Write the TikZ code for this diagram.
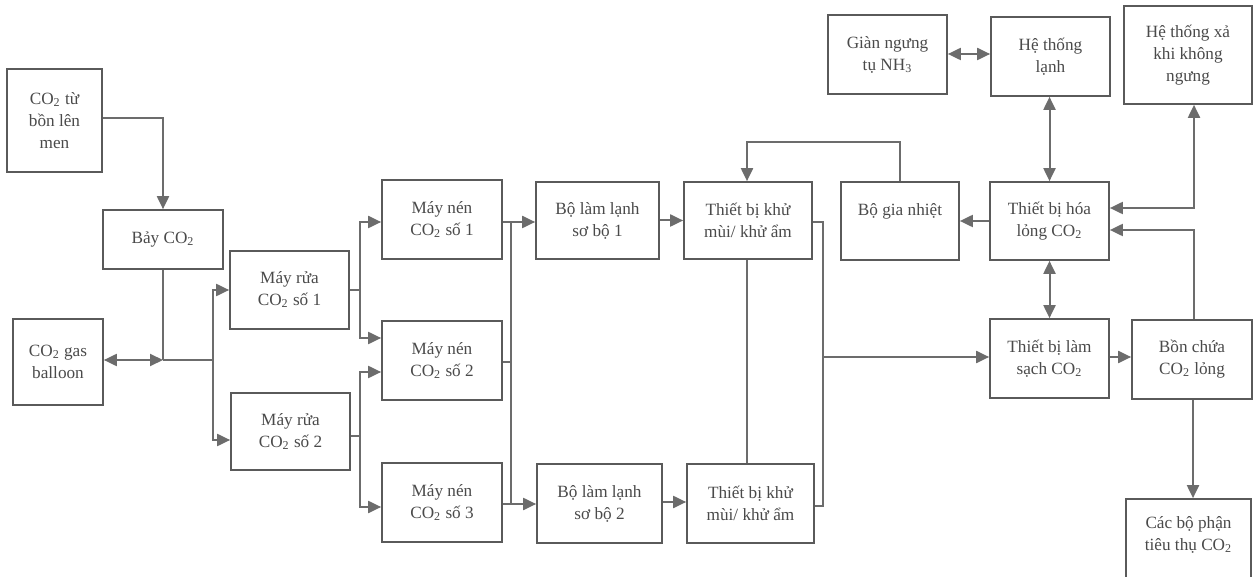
\documentclass[tikz,border=0pt]{standalone}
\usepackage{fontspec}
\setmainfont{Liberation Serif}
\usetikzlibrary{arrows.meta}
\newcommand\cotwo{CO\textsubscript{2}}
\definecolor{linegray}{HTML}{6C6C6C}
\definecolor{boxgray}{HTML}{5A5A5A}
\definecolor{txtgray}{HTML}{4A4A4A}
\tikzset{
  box/.style={draw=boxgray, line width=0.85pt, align=center, inner sep=0pt,
    text=txtgray, font=\fontsize{8.6}{11}\selectfont},
  conn/.style={draw=linegray, line width=1pt},
  arr/.style={conn, -{Triangle[length=6.5pt,width=6pt]}},
  arrtwo/.style={conn, {Triangle[length=6.5pt,width=6pt]}-{Triangle[length=6.5pt,width=6pt]}},
}
\begin{document}
\begin{tikzpicture}[x=0.5pt,y=-0.5pt]
\useasboundingbox (0,0) rectangle (1253,577);
\clip (0,0) rectangle (1253,577);
\fill[white] (0,0) rectangle (1253,577);

% boxes
\node[box, minimum width=47.5pt, minimum height=51.5pt] (src) at (54.5,120.5) {\cotwo{} từ\\bồn lên\\men};
\node[box, minimum width=60pt, minimum height=29.5pt] (bay) at (163,239.5) {Bảy \cotwo};
\node[box, minimum width=45pt, minimum height=43pt] (bal) at (58,362) {\cotwo{} gas\\balloon};
\node[box, minimum width=59.5pt, minimum height=39pt] (r1) at (289.5,290) {Máy rửa\\\cotwo{} số 1};
\node[box, minimum width=59.5pt, minimum height=38.5pt] (r2) at (290.5,431.5) {Máy rửa\\\cotwo{} số 2};
\node[box, minimum width=60pt, minimum height=39.5pt] (n1) at (442,219.5) {Máy nén\\\cotwo{} số 1};
\node[box, minimum width=60pt, minimum height=39.5pt] (n2) at (442,360.5) {Máy nén\\\cotwo{} số 2};
\node[box, minimum width=60pt, minimum height=39.5pt] (n3) at (442,502.5) {Máy nén\\\cotwo{} số 3};
\node[box, minimum width=61.5pt, minimum height=38.5pt] (l1) at (597.5,220.5) {Bộ làm lạnh\\sơ bộ 1};
\node[box, minimum width=62.5pt, minimum height=39.5pt] (l2) at (599.5,503.5) {Bộ làm lạnh\\sơ bộ 2};
\node[box, minimum width=64pt, minimum height=38.5pt] (k1) at (748,220.5) {Thiết bị khử\\mùi/ khử ẩm};
\node[box, minimum width=63.5pt, minimum height=39.5pt] (k2) at (750.5,503.5) {Thiết bị khử\\mùi/ khử ẩm};
\node[box, minimum width=59pt, minimum height=39pt] (gn) at (900,221) {Bộ gia nhiệt\\~};
\node[box, minimum width=59.5pt, minimum height=39pt] (hl) at (1049.5,221) {Thiết bị hóa\\lỏng \cotwo};
\node[box, minimum width=59.5pt, minimum height=39.5pt] (ls) at (1049.5,358.5) {Thiết bị làm\\sạch \cotwo};
\node[box, minimum width=60pt, minimum height=39.5pt] (bc) at (1192,359.5) {Bồn chứa\\\cotwo{} lỏng};
\node[box, minimum width=62.5pt, minimum height=57pt] (tt) at (1188.5,556) {Các bộ phận\\tiêu thụ \cotwo\\~\\~};
\node[box, minimum width=59.5pt, minimum height=39.5pt] (gng) at (887.5,54.5) {Giàn ngưng\\tụ NH\textsubscript{3}};
\node[box, minimum width=59.5pt, minimum height=39.5pt] (htl) at (1050.5,56.5) {Hệ thống\\lạnh};
\node[box, minimum width=64pt, minimum height=49pt] (xa) at (1188,55) {Hệ thống xả\\khi không\\ngưng};

% junction coordinates
\coordinate (j0) at (163,360);
\coordinate (s1) at (213,360);
\coordinate (s2) at (360,290);
\coordinate (s3) at (360,436);
\coordinate (b1) at (511,222);
\coordinate (b2) at (511,504);
\coordinate (b3) at (511,362);
\coordinate (m1) at (823,222);
\coordinate (m2) at (823,506);
\coordinate (m3) at (823,357);
\coordinate (fb) at (747,142);

% left part
\draw[arr] (src.east |- 0,118) -| (bay.north);
\draw[conn] (bay.south) -- (j0);
\draw[arrtwo] (bal.east |- j0) -- (j0);
\draw[conn] (j0) -- (s1);
\draw[arr] (s1) |- (r1.west);
\draw[arr] (s1) |- (r2.west |- 0,440);

% washers to compressors
\draw[conn] (r1.east |- s2) -- (s2);
\draw[arr] (s2) |- (n1.west |- 0,222);
\draw[arr] (s2) |- (n2.west |- 0,338);
\draw[conn] (r2.east |- s3) -- (s3);
\draw[arr] (s3) |- (n2.west |- 0,372);
\draw[arr] (s3) |- (n3.west |- 0,507);

% compressors to coolers
\draw[arr] (n1.east |- b1) -- (l1.west |- b1);
\draw[arr] (n3.east |- b2) -- (l2.west |- b2);
\draw[conn] (b1) -- (b2);
\draw[conn] (n2.east |- b3) -- (b3);

% coolers to deodorisers
\draw[arr] (l1.east) -- (k1.west);
\draw[arr] (l2.east |- 0,502) -- (k2.west |- 0,502);
\draw[conn] (k1.south -| fb) -- (k2.north -| fb);

% deodorisers to cleaner
\draw[conn] (k1.east |- m1) -- (m1) -- (m2) -- (k2.east |- m2);
\draw[arr] (m3) -- (ls.west |- m3);

% heater feedback
\draw[arr] (gn.north) |- (fb) -- (fb |- k1.north);
\draw[arr] (hl.west) -- (gn.east);

% right part
\draw[arrtwo] (gng.east |- 0,54) -- (htl.west |- 0,54);
\draw[arrtwo] (htl.south -| hl.north) -- (hl.north);
\draw[arrtwo] (hl.south) -- (hl.south |- ls.north);
\draw[arr] (ls.east |- 0,357) -- (bc.west |- 0,357);
\draw[arr] (bc.south -| 1193,0) -- (tt.north -| 1193,0);
\draw[arrtwo] (hl.east |- 0,208) -| (xa.south -| 1194,0);
\draw[arr] (bc.north -| 1194,0) |- (hl.east |- 0,230);
\end{tikzpicture}
\end{document}
